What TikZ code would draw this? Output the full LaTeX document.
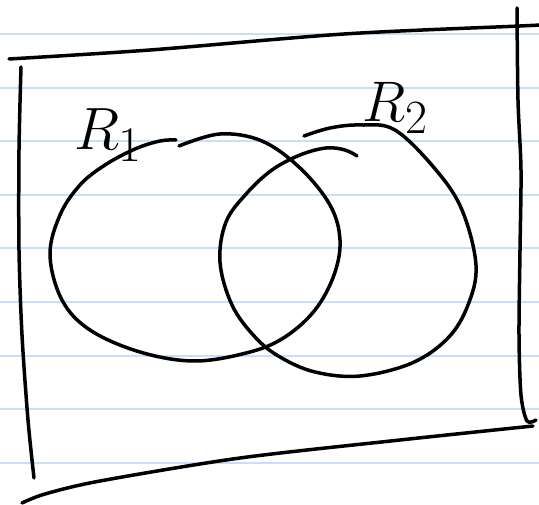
\documentclass[tikz,border=0pt]{standalone}
\begin{document}
\begin{tikzpicture}[x=1pt,y=-1pt,pen/.style={line width=3.5pt,line cap=round,line join=round},rule/.style={line width=2pt,color={rgb,255:red,200;green,222;blue,250}}]
\useasboundingbox(0,0)rectangle(539,505);
\foreach \i in {0,...,8}\draw[rule](0,34+53.6*\i)--(539,34+53.6*\i);
% frame
\draw[pen]plot[smooth]coordinates{(9,59)(150,50)(344,34)(520,26)(539,25)};
\draw[pen]plot[smooth]coordinates{(21,67)(19,150)(19,250)(22,335)(28,420)(34,478)};
\draw[pen]plot[smooth]coordinates{(517,8)(518,100)(521,170)(520,250)(519,335)(521,395)(527,421)(536,420)};
\draw[pen]plot[smooth]coordinates{(22,503)(45,494)(100,481)(240,458)(400,440)(533,426)};
% sets
\draw[pen]plot[smooth,tension=0.6]coordinates{(179,146)(220,134)(262,141)(300,168)(330,205)(340,240)(334,275)(315,310)(285,337)(250,352)(195,361)(140,352)(90,330)(62,300)(50,255)(60,215)(80,185)(105,165)(135,149)(160,141)(176,140)};
\draw[pen]plot[smooth,tension=0.6]coordinates{(304,136)(330,128)(360,125)(395,130)(436,170)(462,210)(476,265)(468,305)(448,338)(412,363)(360,376)(315,372)(280,357)(255,337)(232,305)(220,262)(226,222)(247,193)(272,170)(300,155)(326,148)(345,150)(357,156)};
\node[anchor=base west,inner sep=0,font=\Huge,scale=2.4](r1)at(74,150){$R_1$};
\node[anchor=base west,inner sep=0,font=\Huge,scale=2.3](r2)at(362,122){$R_2$};
\end{tikzpicture}
\end{document}
